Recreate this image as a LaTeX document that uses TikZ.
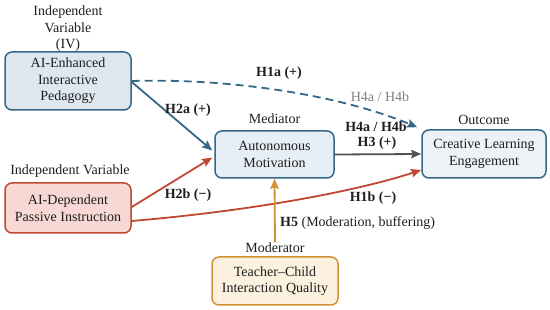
\documentclass[tikz,border=0pt]{standalone}
\usepackage{fontspec}
\setmainfont{Liberation Serif}
\usetikzlibrary{arrows.meta, positioning, calc}
\definecolor{steelblue}{RGB}{52, 104, 134}
\definecolor{enhfill}{RGB}{222, 231, 238}
\definecolor{motfill}{RGB}{230, 238, 246}
\definecolor{outfill}{RGB}{237, 242, 247}
\definecolor{rustred}{RGB}{192, 72, 50}
\definecolor{pinkfill}{RGB}{247, 216, 212}
\definecolor{goldbrown}{RGB}{210, 146, 50}
\definecolor{creamfill}{RGB}{252, 240, 222}
\definecolor{darkgray}{RGB}{80, 80, 80}
\definecolor{inkblack}{RGB}{30, 30, 30}
\tikzset{
  >=Stealth,
  patharrow/.style={-{Stealth[length=3.6mm, width=3mm, inset=0.6mm]}, line width=1.8pt},
  patharrow_blue/.style={patharrow, steelblue},
  patharrow_red/.style={patharrow, rustred},
  patharrow_gray/.style={patharrow, darkgray},
  patharrow_gold/.style={patharrow, goldbrown}
}
\tikzset{
  varbox/.style={rectangle, rounded corners=7pt, line width=1.5pt, align=center, text=inkblack,
    font=\fontsize{14}{16.5}\selectfont, inner sep=2pt},
  ivbox/.style={varbox, draw=steelblue, fill=enhfill, minimum width=126pt, minimum height=58pt},
  medbox/.style={varbox, draw=steelblue, fill=motfill, minimum width=119pt, minimum height=47pt},
  outbox/.style={varbox, draw=steelblue, fill=outfill, minimum width=124pt, minimum height=48pt},
  passbox/.style={varbox, draw=rustred, fill=pinkfill, minimum width=126pt, minimum height=50pt},
  modbox/.style={varbox, draw=goldbrown, fill=creamfill, minimum width=126pt, minimum height=48pt},
  rolelabel/.style={align=center, text=inkblack, font=\fontsize{14}{16.5}\selectfont, inner sep=1pt},
  hyplabel/.style={text=inkblack, font=\fontsize{14}{16.5}\selectfont\bfseries, inner sep=1pt}
}
\begin{document}
\begin{tikzpicture}[x=1pt, y=-1pt]
    \useasboundingbox (0,0) rectangle (550,310);

    % Boxes
    \node[ivbox] (enh) at (68, 81) {AI-Enhanced\\Interactive\\Pedagogy};
    \node[passbox] (dep) at (68, 208) {AI-Dependent\\Passive Instruction};
    \node[medbox] (mot) at (274.5, 154.5) {Autonomous\\Motivation};
    \node[outbox] (cle) at (484, 154) {Creative Learning\\Engagement};
    \node[modbox] (tci) at (275, 281) {Teacher--Child\\Interaction Quality};

    % Role labels
    \node[rolelabel] (ivlbl) at (68, 29) {Independent\\Variable\\(IV)};
    \node[rolelabel] (deplbl) at (70, 171) {Independent Variable};
    \node[rolelabel] (medlbl) at (274.5, 119) {Mediator};
    \node[rolelabel] (outlbl) at (484, 120) {Outcome};
    \node[rolelabel] (modlbl) at (275, 248) {Moderator};

    % Paths
    \draw[patharrow_blue, dash pattern=on 8pt off 5pt] (enh.east) .. controls (230, 78) and (340, 95) .. ([xshift=-4pt, yshift=2pt]cle.north west);
    \draw[patharrow_blue] ([yshift=-1pt]enh.east) -- ([xshift=-2pt, yshift=4pt]mot.west);
    \draw[patharrow_red] ([yshift=1pt]dep.east) -- ([xshift=-2pt, yshift=-3pt]mot.west);
    \draw[patharrow_red] ([yshift=-13pt]dep.east) .. controls (260, 210) and (360, 190) .. ([yshift=-16pt]cle.west);
    \draw[patharrow_gray] (mot.east) -- (cle.west);
    \draw[patharrow_gold] (modlbl.north) -- (mot.south);

    % Hypothesis labels
    \node[hyplabel] (h1a) at (279, 73) {H1a (+)};
    \node[hyplabel, font=\fontsize{14}{16.5}\selectfont, text=gray] (h4top) at (380, 97) {H4a / H4b};
    \node[hyplabel] (h2a) at (188, 110) {H2a (+)};
    \node[hyplabel] (h4mid) at (376, 127) {H4a / H4b};
    \node[hyplabel] (h3) at (377, 143) {H3 (+)};
    \node[hyplabel] (h2b) at (188, 195) {H2b (\textminus)};
    \node[hyplabel] (h1b) at (373, 198) {H1b (\textminus)};
    \node[hyplabel, anchor=west, font=\fontsize{14}{16.5}\selectfont] (h5) at (279, 223) {\textbf{H5} (Moderation, buffering)};
\end{tikzpicture}
\end{document}
